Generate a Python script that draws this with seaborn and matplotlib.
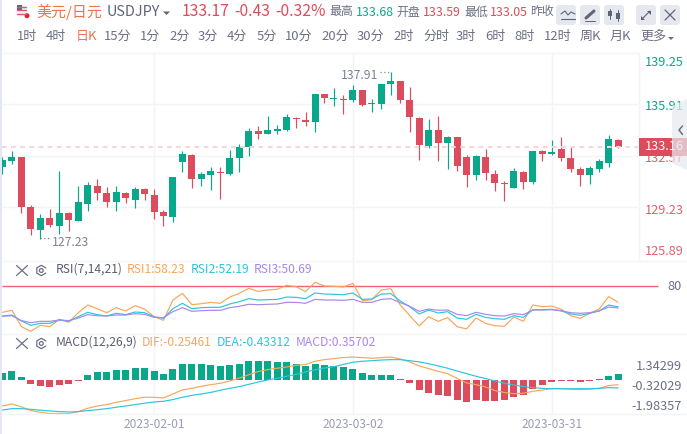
import numpy as np
import matplotlib
matplotlib.use("Agg")
import matplotlib.pyplot as plt
from matplotlib.patches import Circle, FancyBboxPatch, Polygon, Rectangle
import seaborn as sns

# ohlc, one value per daily bar
opens = [131.85, 132.22, 132.48, 129.23, 127.74, 128.52, 128.00, 128.84, 128.32, 129.43, 130.60,
         130.14, 129.56, 130.14, 129.69, 130.40, 130.01, 128.91, 128.58, 132.16, 132.61, 131.05,
         131.31, 131.51, 131.38, 132.42, 133.13, 134.17, 133.98, 134.17, 134.24, 135.02, 134.89,
         134.76, 136.58, 136.25, 136.25, 136.19, 136.84, 135.93, 135.93, 137.23, 137.43, 136.19,
         135.02, 133.20, 134.24, 133.39, 133.78, 132.48, 131.31, 132.48, 131.38, 130.79, 130.47,
         131.51, 130.86, 132.87, 132.68, 133.00, 132.42, 131.70, 131.31, 131.70, 132.09, 133.59]
closes = [132.29, 132.48, 129.23, 127.80, 128.52, 128.06, 128.84, 128.39, 129.56, 130.66, 130.14,
          129.56, 130.21, 129.82, 130.40, 130.08, 128.91, 128.65, 131.18, 132.68, 131.05, 131.38,
          131.57, 131.44, 132.42, 133.13, 134.17, 133.98, 134.24, 134.30, 135.08, 134.95, 134.76,
          136.58, 136.32, 136.32, 136.19, 136.84, 135.86, 135.99, 137.23, 137.43, 136.19, 135.08,
          133.26, 134.24, 133.39, 133.78, 131.90, 131.31, 132.55, 131.44, 130.79, 130.73, 131.57,
          130.86, 132.87, 132.68, 132.81, 132.42, 131.70, 131.31, 131.77, 132.22, 133.65, 133.17]
highs = [132.46, 132.87, 132.48, 129.36, 128.78, 129.10, 131.57, 128.91, 130.60, 130.86, 131.05,
         130.53, 130.60, 130.21, 130.53, 130.47, 130.40, 129.04, 131.18, 132.87, 132.68, 131.51,
         131.83, 131.83, 132.94, 133.33, 134.37, 134.50, 135.15, 134.56, 135.28, 135.08, 135.41,
         136.58, 136.58, 136.97, 136.51, 137.17, 136.84, 136.25, 137.23, 138.01, 137.43, 137.03,
         135.08, 134.95, 135.15, 133.85, 133.78, 132.61, 132.61, 133.00, 131.64, 130.92, 131.77,
         131.57, 132.87, 132.94, 133.59, 133.78, 133.13, 131.83, 131.90, 132.35, 133.91, 133.68]
lows = [131.38, 132.03, 128.84, 127.41, 127.13, 127.93, 127.48, 127.67, 128.32, 128.97, 129.69,
        129.23, 128.97, 129.49, 129.17, 129.69, 128.45, 128.00, 128.26, 131.51, 130.47, 130.60,
        130.34, 129.75, 131.31, 131.51, 132.55, 133.65, 133.98, 133.98, 134.17, 134.37, 134.50,
        134.11, 135.99, 135.80, 135.28, 136.06, 135.80, 135.41, 135.60, 136.51, 135.99, 134.11,
        132.29, 133.07, 132.22, 131.70, 131.57, 130.53, 130.99, 130.99, 130.27, 129.62, 130.47,
        130.40, 130.73, 132.22, 132.61, 132.22, 131.51, 130.60, 130.73, 131.51, 131.83, 133.05]

rsi1 = [44.9, 47.6, 25.8, 19.6, 27.6, 25.8, 35.6, 31.6, 44.4, 54.7, 49.8, 44.4, 51.1, 46.7, 53.8, 49.3, 39.1,
        34.2, 61.3, 70.2, 55.1, 56.4, 58.2, 56.9, 65.3, 70.2, 76.9, 72.9, 74.7, 75.6, 80.9, 79.1, 72.4, 84.9,
        80.0, 79.6, 78.7, 83.6, 60.4, 61.8, 74.7, 76.4, 54.7, 40.4, 26.7, 39.1, 32.9, 37.8, 25.8, 22.7, 37.3,
        30.2, 27.1, 26.2, 38.7, 32.9, 54.7, 52.4, 53.3, 48.9, 40.4, 36.9, 43.6, 49.3, 65.8, 58.23]
rsi2 = [40.0, 41.3, 33.3, 27.6, 30.2, 30.2, 34.7, 32.9, 39.1, 44.9, 41.8, 40.0, 43.6, 41.8, 45.3, 44.4, 39.1,
        36.9, 49.8, 56.9, 49.8, 51.1, 51.6, 51.6, 56.0, 59.1, 63.1, 61.3, 61.8, 62.2, 65.3, 64.9, 63.1, 70.7,
        69.3, 68.9, 68.4, 70.7, 62.2, 62.7, 69.3, 69.8, 60.0, 52.4, 42.7, 48.0, 44.0, 45.8, 37.3, 35.6, 42.2,
        38.2, 36.4, 35.6, 40.4, 38.2, 48.4, 48.4, 48.9, 46.7, 42.7, 40.9, 43.6, 46.7, 54.7, 52.19]
rsi3 = [39.6, 40.4, 33.8, 31.1, 32.9, 32.9, 34.7, 33.8, 37.3, 41.8, 40.4, 40.0, 41.3, 41.3, 43.1, 42.2, 38.2,
        37.8, 45.8, 51.1, 46.2, 47.1, 47.6, 47.6, 51.1, 52.9, 55.6, 55.1, 55.6, 56.0, 58.2, 58.2, 56.9, 62.2,
        61.3, 61.3, 60.9, 62.2, 58.2, 58.2, 62.2, 63.1, 57.8, 52.9, 46.2, 49.3, 47.6, 48.0, 42.2, 40.4, 44.9,
        42.2, 40.4, 40.0, 43.1, 41.8, 48.0, 48.0, 48.4, 47.1, 44.4, 43.6, 44.4, 46.7, 52.0, 50.69]

dif = [-1.47, -1.35, -1.52, -1.73, -1.83, -1.90, -1.90, -1.90, -1.79, -1.60, -1.47, -1.39, -1.26, -1.16, -1.05,
       -0.97, -0.97, -1.01, -0.78, -0.55, -0.46, -0.34, -0.25, -0.17, -0.04, 0.13, 0.32, 0.50, 0.61, 0.69, 0.76,
       0.86, 0.90, 1.09, 1.18, 1.24, 1.30, 1.33, 1.30, 1.26, 1.30, 1.33, 1.22, 1.05, 0.82, 0.67, 0.51, 0.38, 0.11,
       -0.15, -0.25, -0.38, -0.59, -0.70, -0.76, -0.74, -0.63, -0.55, -0.48, -0.48, -0.51, -0.53, -0.51, -0.46,
       -0.30, -0.25461]
dea = [-1.70, -1.62, -1.62, -1.66, -1.71, -1.75, -1.79, -1.81, -1.79, -1.73, -1.68, -1.62, -1.54, -1.47, -1.39,
       -1.31, -1.24, -1.20, -1.10, -0.97, -0.86, -0.78, -0.69, -0.57, -0.46, -0.36, -0.23, -0.10, 0.02, 0.11, 0.23,
       0.34, 0.48, 0.59, 0.70, 0.78, 0.91, 1.03, 1.09, 1.12, 1.16, 1.18, 1.18, 1.12, 1.05, 0.95, 0.82, 0.69, 0.53,
       0.38, 0.23, 0.10, -0.04, -0.17, -0.27, -0.36, -0.42, -0.46, -0.48, -0.48, -0.48, -0.48, -0.48, -0.46, -0.42,
       -0.43312]
macd_hist = [0.42, 0.51, 0.17, -0.19, -0.30, -0.38, -0.27, -0.21, -0.04, 0.30, 0.46, 0.48, 0.59, 0.59, 0.69, 0.69,
             0.53, 0.38, 0.63, 0.93, 0.91, 0.91, 0.90, 0.82, 0.88, 0.95, 1.10, 1.10, 1.09, 1.03, 1.03, 0.95, 0.82,
             0.91, 0.88, 0.82, 0.78, 0.67, 0.44, 0.29, 0.30, 0.30, 0.10, -0.15, -0.57, -0.70, -0.86, -0.88, -1.10,
             -1.26, -1.14, -1.16, -1.20, -1.14, -0.97, -0.86, -0.51, -0.29, -0.08, -0.04, -0.04, -0.08, -0.06, 0.06,
             0.27, 0.35702]

price_grid = [135.91, 132.57, 129.23]
date_bars = [16, 37, 58]
date_labels = ["2023-02-01", "2023-03-02", "2023-03-31"]
periods = ["1时", "4时", "日K", "15分", "1分", "2分", "3分", "4分", "5分", "10分", "20分",
           "30分", "2时", "分时", "3时", "6时", "8时", "12时", "周K", "月K", "更多"]
period_x = [17, 46, 76, 104, 140, 169, 198, 227, 257, 285, 321, 357, 393, 423, 456, 485, 514, 544, 580, 610, 640]

GREEN = "#0aa88a"
RED = "#dc4c5c"
ORANGE = "#f9a55c"
CYAN = "#2cc5dd"
PURPLE = "#a788e8"
GRID = "#f3f4f8"
GRAY = "#6b7084"

sns.set_theme(style="white", rc={"axes.linewidth": 0, "xtick.major.size": 0, "ytick.major.size": 0})
plt.rcParams["font.family"] = ["Noto Sans CJK SC", "DejaVu Sans"]

W, H = 687, 434
fig = plt.figure(figsize=(W / 100, H / 100), dpi=100)


def px_axes(left, top, right, bottom):
    a = fig.add_axes([left / W, 1 - bottom / H, (right - left) / W, (bottom - top) / H])
    a.set_facecolor("none")
    a.set_xlim(-0.05, 67.1)
    a.set_yticks([])
    a.set_xticks(date_bars)
    a.set_xticklabels([])
    a.grid(True, axis="x", color=GRID, lw=1)
    a.set_axisbelow(True)
    return a


bars = np.arange(len(opens))
o, c = np.array(opens), np.array(closes)
up = c >= o
candle_col = [GREEN if u else RED for u in up]

# main candles
ax = px_axes(2, 53, 638, 260)
ax.set_ylim(125.79, 139.25)
ax.set_yticks(price_grid)
ax.set_yticklabels([])
ax.grid(True, axis="y", color=GRID, lw=1)
ax.vlines(bars, lows, highs, colors=candle_col, lw=0.85)
ax.bar(bars, np.abs(c - o), bottom=np.minimum(o, c), width=0.74, color=candle_col, lw=0)
ax.axhline(133.16, color="#f9d5d9", lw=1.5, dashes=(2.2, 2.2), zorder=3)

# rsi
ax_rsi = px_axes(2, 260, 638, 334)
ax_rsi.set_ylim(16, 114.67)
ax_rsi.hlines(80, -0.05, 69.2, color="#f0626e", lw=1, clip_on=False)
sns.lineplot(x=bars, y=rsi1, ax=ax_rsi, color=ORANGE, lw=0.85)
sns.lineplot(x=bars, y=rsi2, ax=ax_rsi, color=CYAN, lw=0.85)
sns.lineplot(x=bars, y=rsi3, ax=ax_rsi, color=PURPLE, lw=0.85)
ax_rsi.set_xlim(-0.05, 67.1)

# macd
ax_macd = px_axes(2, 334, 638, 414)
hist_side = ["up" if v >= 0 else "down" for v in macd_hist]
sns.barplot(x=bars, y=macd_hist, hue=hist_side, palette={"up": GREEN, "down": RED}, native_scale=True,
            dodge=False, width=0.74, errorbar=None, legend=False, saturation=1, linewidth=0, ax=ax_macd)
sns.lineplot(x=bars, y=dif, ax=ax_macd, color=ORANGE, lw=0.85)
sns.lineplot(x=bars, y=dea, ax=ax_macd, color=CYAN, lw=0.85)
ax_macd.set_xlim(-0.05, 67.1)
ax_macd.set_ylim(-1.926, 2.646)
ax_macd.set_yticks([])
ax_macd.set_xticks(date_bars)
ax_macd.set_xticklabels(date_labels, fontsize=8.6, color="#9a9db0")
ax_macd.tick_params(axis="x", pad=3.2)
ax_macd.set_xlabel("")
ax_rsi.set_xlabel("")

# header, buttons and labels in pixel coordinates
ov = fig.add_axes([0, 0, 1, 1], zorder=10)
ov.set_xlim(0, W)
ov.set_ylim(H, 0)
ov.axis("off")
ov.add_patch(Rectangle((0, 0), 2, H, color="#e4e8f2", lw=0))
ov.plot([2, 638], [53, 53], color=GRID, lw=1)
ov.plot([638.5, 638.5], [53, 260], color=GRID, lw=1)
for yy in [260.5, 334, 413.5]:
    ov.plot([2, W], [yy, yy], color=GRID, lw=1)


def txt(x, y, s, color=GRAY, size=9.4, ha="left", **kw):
    ov.text(x, y, s, color=color, fontsize=size, ha=ha, va="center", **kw)


# flag
ov.add_patch(Circle((21.5, 10.5), 5.8, color="#eef0f4", lw=0))
for yy in [6.5, 10, 13.5]:
    ov.plot([17, 26], [yy, yy], color="#d9606a", lw=1)
ov.add_patch(Rectangle((16.5, 5), 5, 5, color="#5a6488", lw=0))
ov.add_patch(Circle((27, 15.7), 2.5, color="#ee1c25", lw=0))

txt(36, 11.5, "美元/日元", "#f0724a", 10.8)
txt(107, 11.5, "USDJPY", "#5f6478", 10.4)
ov.add_patch(Polygon([[163, 11.5], [170, 11.5], [166.5, 15]], color="#5f6478", lw=0))
txt(181.5, 11.5, "133.17", RED, 11.3, weight="medium")
txt(234, 11.5, "-0.43", RED, 11.3, weight="medium")
txt(275, 11.5, "-0.32%", RED, 11.3, weight="medium")
txt(329, 12, "最高", GRAY, 8.6)
txt(355.5, 12, "133.68", GREEN, 8.9)
txt(396.5, 12, "开盘", GRAY, 8.6)
txt(423, 12, "133.59", RED, 8.9)
txt(464, 12, "最低", GRAY, 8.6)
txt(489.5, 12, "133.05", RED, 8.9)
txt(530.5, 12, "昨收", GRAY, 8.6)

for bx in [556, 580, 604, 636, 660]:
    ov.add_patch(FancyBboxPatch((bx + 3, 8), 14, 14, boxstyle="round,pad=3", color="#e6e8f0", lw=0))
ic = "#5f6478"
ov.plot([561, 565, 568, 571, 575], [14, 11, 15, 12, 14], color=ic, lw=0.8)
ov.plot([561, 575], [19, 19], color=ic, lw=0.8)
ov.plot([586, 594], [18, 11], color=ic, lw=2.2)
ov.plot([585, 595], [20.5, 20.5], color=ic, lw=0.7)
ov.plot([610, 610], [9, 19], color=ic, lw=0.7)
ov.plot([618, 618], [10, 21], color=ic, lw=0.7)
ov.add_patch(Rectangle((608, 11), 4, 5, color=ic, lw=0))
ov.add_patch(Rectangle((616, 13), 4, 6, color=ic, lw=0))
ov.plot([642, 650], [19, 11], color=ic, lw=0.8)
ov.add_patch(Polygon([[647, 10.5], [651, 10.5], [651, 14.5]], color=ic, lw=0))
ov.add_patch(Polygon([[641, 15.5], [641, 19.5], [645, 19.5]], color=ic, lw=0))
ov.plot([665, 675], [10, 20], color=ic, lw=0.9)
ov.plot([675, 665], [10, 20], color=ic, lw=0.9)

for name, x0 in zip(periods, period_x):
    txt(x0, 36.5, name, "#f0724a" if name == "日K" else GRAY, 9.4)
ov.add_patch(Polygon([[668, 37], [674, 37], [671, 40]], color=GRAY, lw=0))

# price scale
txt(645, 62.5, "139.25", GREEN, 9.2)
txt(645, 106.5, "135.91", GREEN, 9.2)
txt(645, 159, "132.57", "#e0616f", 9.2)
txt(645, 210.5, "129.23", "#e0616f", 9.2)
txt(645, 251.5, "125.89", "#e0616f", 9.2)
ov.add_patch(Rectangle((638.5, 138), W - 638.5, 18, color=RED, lw=0, zorder=3))
txt(645, 147, "133.16", "white", 9.2, zorder=4)
ov.add_patch(Polygon([[W, 99], [672, 106], [672, 163], [W, 170]], color="#e8e9ef", alpha=0.72, lw=0, zorder=5))
ov.plot([682.5, 679, 682.5], [126, 130, 134.5], color=GRAY, lw=1.1, zorder=6)

# extreme markers
txt(341, 75.5, "137.91", "#7d8194", 8.8)
ov.plot([379.5, 390], [71.5, 71.5], color="#7d8194", lw=0.9, dashes=(1, 2))
txt(52, 242.5, "127.23", "#7d8194", 8.8)
ov.plot([40, 51], [238, 238], color="#7d8194", lw=0.9, dashes=(1, 2))


def panel_head(y):
    ov.plot([16.5, 27.5], [y - 5, y + 5], color=GRAY, lw=0.9)
    ov.plot([16.5, 27.5], [y + 5, y - 5], color=GRAY, lw=0.9)
    ang = np.radians(np.arange(30, 390, 60))
    ov.plot(41.3 + 5.2 * np.cos(ang), y + 5.2 * np.sin(ang), color=GRAY, lw=0.9)
    ov.add_patch(Circle((41.3, y), 1.9, fill=False, ec=GRAY, lw=0.9))


panel_head(270.5)
txt(55.5, 269.5, "RSI(7,14,21)", "#5a5e6e", 8.7)
txt(127, 269.5, "RSI1:58.23", ORANGE, 8.7)
txt(191, 269.5, "RSI2:52.19", CYAN, 8.7)
txt(254, 269.5, "RSI3:50.69", PURPLE, 8.7)
txt(682, 286, "80", GRAY, 9.2, ha="right")

panel_head(343.5)
txt(55.5, 342.5, "MACD(12,26,9)", "#5a5e6e", 8.7)
txt(142, 342.5, "DIF:-0.25461", ORANGE, 8.7)
txt(217, 342.5, "DEA:-0.43312", CYAN, 8.7)
txt(296, 342.5, "MACD:0.35702", PURPLE, 8.7)
txt(682, 367, "1.34299", GRAY, 9.2, ha="right")
txt(682, 387, "-0.32029", GRAY, 9.2, ha="right")
txt(682, 406, "-1.98357", GRAY, 9.2, ha="right")

fig.savefig("out.png", dpi=100)
